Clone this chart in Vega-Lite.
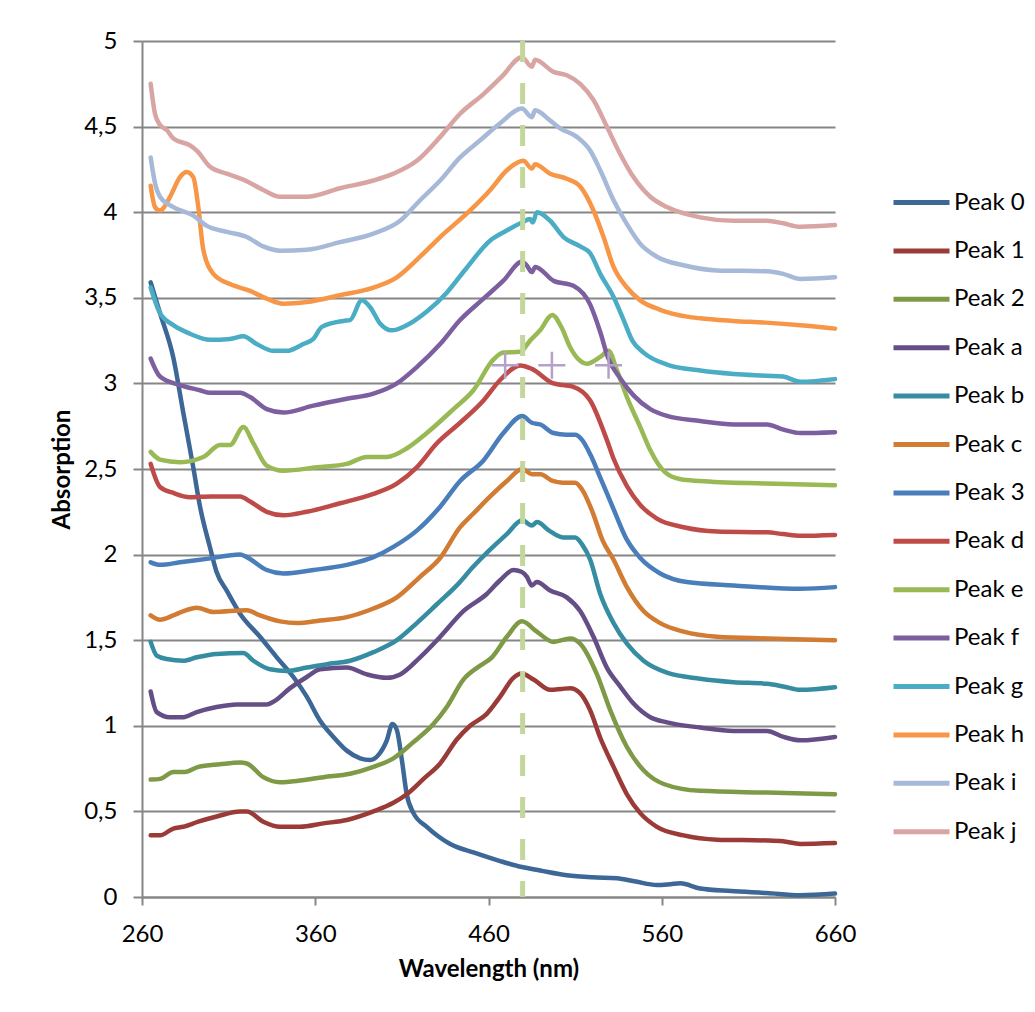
{
"$schema":"https://vega.github.io/schema/vega-lite/v6.json",
"width":693,"height":856,
"autosize":{"type":"none"},
"padding":{"left":142,"top":41,"right":200,"bottom":115},
"background":"white",
"config":{"view":{"stroke":null},"font":"Lato"},
"encoding":{
 "x":{"field":"w","type":"quantitative","scale":{"domain":[260,660],"nice":false,"zero":false},
  "axis":{"values":[260,360,460,560,660],"grid":false,"domainColor":"#868686","domainWidth":2,"tickColor":"#868686","tickWidth":2,"tickSize":8,"labelFont":"Lato","labelFontSize":24,"labelColor":"#000","labelPadding":17,"labelFlush":false,"title":"Wavelength (nm)","titleFont":"Lato","titleFontSize":24,"titleFontWeight":"bold","titleColor":"#000","titlePadding":11}},
 "y":{"field":"a","type":"quantitative","scale":{"domain":[0,5],"nice":false,"zero":true},
  "axis":{"values":[0,0.5,1,1.5,2,2.5,3,3.5,4,4.5,5],"grid":true,"gridColor":"#868686","gridWidth":1.8,"domainColor":"#868686","domainWidth":2,"tickColor":"#868686","tickWidth":2,"tickSize":9,"labelFont":"Lato","labelFontSize":24,"labelColor":"#000","labelPadding":16,"labelExpr":"replace(format(datum.value,'.1~f'),'.',',')","title":"Absorption","titleFont":"Lato","titleFontSize":24,"titleFontWeight":"bold","titleColor":"#000","titlePadding":9}}
},
"layer":[
{"data":{"values":[
{"s":"Peak 0","w":265,"a":3.59},{"s":"Peak 0","w":270.4,"a":3.41},{"s":"Peak 0","w":278.1,"a":3.15},{"s":"Peak 0","w":283.8,"a":2.83},{"s":"Peak 0","w":289.6,"a":2.51},{"s":"Peak 0","w":293.5,"a":2.28},{"s":"Peak 0","w":299.3,"a":2.04},{"s":"Peak 0","w":303,"a":1.9},{"s":"Peak 0","w":308.9,"a":1.79},{"s":"Peak 0","w":316.6,"a":1.655},{"s":"Peak 0","w":328.1,"a":1.52},{"s":"Peak 0","w":337.8,"a":1.4},{"s":"Peak 0","w":347.4,"a":1.285},{"s":"Peak 0","w":355.1,"a":1.17},{"s":"Peak 0","w":362.8,"a":1.03},{"s":"Peak 0","w":370.5,"a":0.935},{"s":"Peak 0","w":378.2,"a":0.855},{"s":"Peak 0","w":385.9,"a":0.81},{"s":"Peak 0","w":391.7,"a":0.8},{"s":"Peak 0","w":396.5,"a":0.83},{"s":"Peak 0","w":401.3,"a":0.915},{"s":"Peak 0","w":404.5,"a":1.01},{"s":"Peak 0","w":407.1,"a":0.975},{"s":"Peak 0","w":410,"a":0.8},{"s":"Peak 0","w":412.8,"a":0.6},{"s":"Peak 0","w":416.7,"a":0.49},{"s":"Peak 0","w":424.4,"a":0.41},{"s":"Peak 0","w":437.9,"a":0.31},{"s":"Peak 0","w":451.3,"a":0.26},{"s":"Peak 0","w":466.7,"a":0.21},{"s":"Peak 0","w":479.3,"a":0.175},{"s":"Peak 0","w":489.8,"a":0.155},{"s":"Peak 0","w":505.2,"a":0.127},{"s":"Peak 0","w":520,"a":0.115},{"s":"Peak 0","w":534.1,"a":0.11},{"s":"Peak 0","w":545,"a":0.09},{"s":"Peak 0","w":557.2,"a":0.07},{"s":"Peak 0","w":565,"a":0.075},{"s":"Peak 0","w":570.7,"a":0.08},{"s":"Peak 0","w":582.2,"a":0.05},{"s":"Peak 0","w":600,"a":0.035},{"s":"Peak 0","w":620.7,"a":0.023},{"s":"Peak 0","w":640,"a":0.01},{"s":"Peak 0","w":660,"a":0.02},
{"s":"Peak 1","w":265,"a":0.36},{"s":"Peak 1","w":270.4,"a":0.36},{"s":"Peak 1","w":278.1,"a":0.4},{"s":"Peak 1","w":283.8,"a":0.41},{"s":"Peak 1","w":292.5,"a":0.44},{"s":"Peak 1","w":303.1,"a":0.47},{"s":"Peak 1","w":316.6,"a":0.5},{"s":"Peak 1","w":320.5,"a":0.5},{"s":"Peak 1","w":330,"a":0.44},{"s":"Peak 1","w":339.7,"a":0.41},{"s":"Peak 1","w":351.2,"a":0.41},{"s":"Peak 1","w":364.7,"a":0.43},{"s":"Peak 1","w":378.2,"a":0.45},{"s":"Peak 1","w":393.6,"a":0.5},{"s":"Peak 1","w":405.1,"a":0.55},{"s":"Peak 1","w":412.8,"a":0.6},{"s":"Peak 1","w":422.5,"a":0.69},{"s":"Peak 1","w":432.1,"a":0.78},{"s":"Peak 1","w":441.7,"a":0.92},{"s":"Peak 1","w":449.4,"a":1.0},{"s":"Peak 1","w":459,"a":1.07},{"s":"Peak 1","w":466.7,"a":1.17},{"s":"Peak 1","w":474.4,"a":1.28},{"s":"Peak 1","w":479,"a":1.305},{"s":"Peak 1","w":486,"a":1.27},{"s":"Peak 1","w":495.6,"a":1.21},{"s":"Peak 1","w":502,"a":1.215},{"s":"Peak 1","w":507.2,"a":1.22},{"s":"Peak 1","w":512.9,"a":1.19},{"s":"Peak 1","w":518.7,"a":1.09},{"s":"Peak 1","w":524.5,"a":0.93},{"s":"Peak 1","w":532.2,"a":0.76},{"s":"Peak 1","w":539.9,"a":0.6},{"s":"Peak 1","w":547.6,"a":0.49},{"s":"Peak 1","w":557.2,"a":0.41},{"s":"Peak 1","w":572.6,"a":0.36},{"s":"Peak 1","w":591.9,"a":0.335},{"s":"Peak 1","w":620.7,"a":0.33},{"s":"Peak 1","w":630,"a":0.325},{"s":"Peak 1","w":640,"a":0.31},{"s":"Peak 1","w":660,"a":0.315},
{"s":"Peak 2","w":265,"a":0.686},{"s":"Peak 2","w":270.4,"a":0.69},{"s":"Peak 2","w":278.1,"a":0.73},{"s":"Peak 2","w":284.8,"a":0.73},{"s":"Peak 2","w":292.5,"a":0.76},{"s":"Peak 2","w":305,"a":0.775},{"s":"Peak 2","w":316.6,"a":0.785},{"s":"Peak 2","w":320.5,"a":0.78},{"s":"Peak 2","w":330,"a":0.7},{"s":"Peak 2","w":339.7,"a":0.67},{"s":"Peak 2","w":351.2,"a":0.68},{"s":"Peak 2","w":364.7,"a":0.7},{"s":"Peak 2","w":380.1,"a":0.72},{"s":"Peak 2","w":393.6,"a":0.76},{"s":"Peak 2","w":405.1,"a":0.81},{"s":"Peak 2","w":416.7,"a":0.905},{"s":"Peak 2","w":428.2,"a":1.01},{"s":"Peak 2","w":435.9,"a":1.11},{"s":"Peak 2","w":445.5,"a":1.27},{"s":"Peak 2","w":455,"a":1.35},{"s":"Peak 2","w":462,"a":1.4},{"s":"Peak 2","w":470.6,"a":1.52},{"s":"Peak 2","w":479.3,"a":1.61},{"s":"Peak 2","w":487.9,"a":1.55},{"s":"Peak 2","w":497.5,"a":1.49},{"s":"Peak 2","w":507.2,"a":1.51},{"s":"Peak 2","w":512.9,"a":1.48},{"s":"Peak 2","w":522.6,"a":1.3},{"s":"Peak 2","w":530.3,"a":1.09},{"s":"Peak 2","w":539.9,"a":0.876},{"s":"Peak 2","w":549.5,"a":0.74},{"s":"Peak 2","w":561.1,"a":0.66},{"s":"Peak 2","w":582.2,"a":0.62},{"s":"Peak 2","w":620.7,"a":0.61},{"s":"Peak 2","w":660,"a":0.6},
{"s":"Peak a","w":265,"a":1.2},{"s":"Peak a","w":268.5,"a":1.08},{"s":"Peak a","w":276.2,"a":1.05},{"s":"Peak a","w":283.8,"a":1.05},{"s":"Peak a","w":291.6,"a":1.08},{"s":"Peak a","w":303.1,"a":1.11},{"s":"Peak a","w":314.7,"a":1.125},{"s":"Peak a","w":332,"a":1.125},{"s":"Peak a","w":335.8,"a":1.14},{"s":"Peak a","w":345.5,"a":1.22},{"s":"Peak a","w":355.1,"a":1.285},{"s":"Peak a","w":362.8,"a":1.33},{"s":"Peak a","w":378.2,"a":1.34},{"s":"Peak a","w":389.8,"a":1.3},{"s":"Peak a","w":401.3,"a":1.28},{"s":"Peak a","w":409,"a":1.3},{"s":"Peak a","w":420.5,"a":1.4},{"s":"Peak a","w":432.1,"a":1.52},{"s":"Peak a","w":445.5,"a":1.67},{"s":"Peak a","w":459,"a":1.77},{"s":"Peak a","w":466.7,"a":1.85},{"s":"Peak a","w":474.4,"a":1.91},{"s":"Peak a","w":479,"a":1.9},{"s":"Peak a","w":482.2,"a":1.87},{"s":"Peak a","w":485,"a":1.82},{"s":"Peak a","w":487.9,"a":1.84},{"s":"Peak a","w":495.6,"a":1.79},{"s":"Peak a","w":505.2,"a":1.75},{"s":"Peak a","w":512.9,"a":1.67},{"s":"Peak a","w":520.6,"a":1.52},{"s":"Peak a","w":528.3,"a":1.34},{"s":"Peak a","w":536,"a":1.23},{"s":"Peak a","w":543.7,"a":1.13},{"s":"Peak a","w":553.4,"a":1.05},{"s":"Peak a","w":563,"a":1.02},{"s":"Peak a","w":582.2,"a":0.99},{"s":"Peak a","w":601.5,"a":0.97},{"s":"Peak a","w":620.7,"a":0.97},{"s":"Peak a","w":630.3,"a":0.935},{"s":"Peak a","w":640,"a":0.915},{"s":"Peak a","w":660,"a":0.935},
{"s":"Peak b","w":265,"a":1.49},{"s":"Peak b","w":268.5,"a":1.41},{"s":"Peak b","w":274.3,"a":1.39},{"s":"Peak b","w":283.8,"a":1.38},{"s":"Peak b","w":291.6,"a":1.4},{"s":"Peak b","w":303.1,"a":1.42},{"s":"Peak b","w":318.5,"a":1.425},{"s":"Peak b","w":324.3,"a":1.38},{"s":"Peak b","w":333.9,"a":1.33},{"s":"Peak b","w":343.6,"a":1.32},{"s":"Peak b","w":355.1,"a":1.34},{"s":"Peak b","w":366.7,"a":1.36},{"s":"Peak b","w":380.1,"a":1.38},{"s":"Peak b","w":393.6,"a":1.43},{"s":"Peak b","w":407.1,"a":1.5},{"s":"Peak b","w":418.6,"a":1.6},{"s":"Peak b","w":430.2,"a":1.71},{"s":"Peak b","w":441.7,"a":1.82},{"s":"Peak b","w":451.3,"a":1.93},{"s":"Peak b","w":460,"a":2.02},{"s":"Peak b","w":470.6,"a":2.12},{"s":"Peak b","w":479.5,"a":2.2},{"s":"Peak b","w":485,"a":2.17},{"s":"Peak b","w":488,"a":2.19},{"s":"Peak b","w":495,"a":2.14},{"s":"Peak b","w":503,"a":2.1},{"s":"Peak b","w":510,"a":2.1},{"s":"Peak b","w":514,"a":2.06},{"s":"Peak b","w":518.7,"a":1.97},{"s":"Peak b","w":524.5,"a":1.77},{"s":"Peak b","w":532.2,"a":1.6},{"s":"Peak b","w":539.9,"a":1.48},{"s":"Peak b","w":549.5,"a":1.38},{"s":"Peak b","w":563,"a":1.31},{"s":"Peak b","w":582.2,"a":1.275},{"s":"Peak b","w":601.5,"a":1.255},{"s":"Peak b","w":620.7,"a":1.245},{"s":"Peak b","w":630,"a":1.23},{"s":"Peak b","w":640,"a":1.21},{"s":"Peak b","w":660,"a":1.225},
{"s":"Peak c","w":265,"a":1.645},{"s":"Peak c","w":270.4,"a":1.62},{"s":"Peak c","w":278.1,"a":1.645},{"s":"Peak c","w":284,"a":1.67},{"s":"Peak c","w":291.6,"a":1.69},{"s":"Peak c","w":301.2,"a":1.665},{"s":"Peak c","w":320.5,"a":1.675},{"s":"Peak c","w":328.1,"a":1.645},{"s":"Peak c","w":339.7,"a":1.61},{"s":"Peak c","w":349.3,"a":1.6},{"s":"Peak c","w":362.8,"a":1.615},{"s":"Peak c","w":378.2,"a":1.635},{"s":"Peak c","w":393.6,"a":1.685},{"s":"Peak c","w":407.1,"a":1.75},{"s":"Peak c","w":420.5,"a":1.87},{"s":"Peak c","w":432.1,"a":1.98},{"s":"Peak c","w":443.6,"a":2.16},{"s":"Peak c","w":451.3,"a":2.24},{"s":"Peak c","w":461,"a":2.34},{"s":"Peak c","w":470.6,"a":2.43},{"s":"Peak c","w":479.5,"a":2.5},{"s":"Peak c","w":485,"a":2.47},{"s":"Peak c","w":490,"a":2.47},{"s":"Peak c","w":497,"a":2.43},{"s":"Peak c","w":503,"a":2.42},{"s":"Peak c","w":510,"a":2.42},{"s":"Peak c","w":514,"a":2.38},{"s":"Peak c","w":520,"a":2.25},{"s":"Peak c","w":526,"a":2.08},{"s":"Peak c","w":532.2,"a":1.97},{"s":"Peak c","w":539.9,"a":1.81},{"s":"Peak c","w":549.5,"a":1.67},{"s":"Peak c","w":559.1,"a":1.6},{"s":"Peak c","w":572.6,"a":1.55},{"s":"Peak c","w":591.9,"a":1.52},{"s":"Peak c","w":620.7,"a":1.51},{"s":"Peak c","w":660,"a":1.5},
{"s":"Peak 3","w":265,"a":1.955},{"s":"Peak 3","w":270.4,"a":1.94},{"s":"Peak 3","w":281.9,"a":1.955},{"s":"Peak 3","w":297.4,"a":1.975},{"s":"Peak 3","w":316.6,"a":2.0},{"s":"Peak 3","w":320.5,"a":1.985},{"s":"Peak 3","w":332,"a":1.91},{"s":"Peak 3","w":341.6,"a":1.89},{"s":"Peak 3","w":358.9,"a":1.91},{"s":"Peak 3","w":378.2,"a":1.94},{"s":"Peak 3","w":393.6,"a":1.985},{"s":"Peak 3","w":405.1,"a":2.045},{"s":"Peak 3","w":418.6,"a":2.14},{"s":"Peak 3","w":432.1,"a":2.28},{"s":"Peak 3","w":443.6,"a":2.43},{"s":"Peak 3","w":457.1,"a":2.55},{"s":"Peak 3","w":468.6,"a":2.71},{"s":"Peak 3","w":479.5,"a":2.81},{"s":"Peak 3","w":485,"a":2.77},{"s":"Peak 3","w":490,"a":2.76},{"s":"Peak 3","w":497.5,"a":2.71},{"s":"Peak 3","w":505,"a":2.7},{"s":"Peak 3","w":510,"a":2.7},{"s":"Peak 3","w":514,"a":2.67},{"s":"Peak 3","w":519,"a":2.58},{"s":"Peak 3","w":524.5,"a":2.45},{"s":"Peak 3","w":532,"a":2.27},{"s":"Peak 3","w":539.7,"a":2.09},{"s":"Peak 3","w":547.6,"a":1.98},{"s":"Peak 3","w":559.1,"a":1.89},{"s":"Peak 3","w":574.5,"a":1.84},{"s":"Peak 3","w":601.5,"a":1.82},{"s":"Peak 3","w":640,"a":1.8},{"s":"Peak 3","w":660,"a":1.81},
{"s":"Peak d","w":265,"a":2.53},{"s":"Peak d","w":270.4,"a":2.395},{"s":"Peak d","w":278.1,"a":2.36},{"s":"Peak d","w":287.7,"a":2.335},{"s":"Peak d","w":300,"a":2.34},{"s":"Peak d","w":316.6,"a":2.34},{"s":"Peak d","w":322.4,"a":2.31},{"s":"Peak d","w":332,"a":2.25},{"s":"Peak d","w":341.6,"a":2.23},{"s":"Peak d","w":355.1,"a":2.25},{"s":"Peak d","w":374.3,"a":2.3},{"s":"Peak d","w":393.6,"a":2.355},{"s":"Peak d","w":407.1,"a":2.415},{"s":"Peak d","w":418.6,"a":2.51},{"s":"Peak d","w":430.2,"a":2.65},{"s":"Peak d","w":443.6,"a":2.77},{"s":"Peak d","w":457.1,"a":2.9},{"s":"Peak d","w":466.7,"a":3.02},{"s":"Peak d","w":478.3,"a":3.105},{"s":"Peak d","w":485,"a":3.085},{"s":"Peak d","w":497.5,"a":3.0},{"s":"Peak d","w":503,"a":2.99},{"s":"Peak d","w":509,"a":2.98},{"s":"Peak d","w":518.7,"a":2.9},{"s":"Peak d","w":528.3,"a":2.67},{"s":"Peak d","w":532.2,"a":2.56},{"s":"Peak d","w":539.9,"a":2.4},{"s":"Peak d","w":547.6,"a":2.29},{"s":"Peak d","w":557.2,"a":2.21},{"s":"Peak d","w":572.6,"a":2.16},{"s":"Peak d","w":591.9,"a":2.135},{"s":"Peak d","w":620.7,"a":2.13},{"s":"Peak d","w":630,"a":2.12},{"s":"Peak d","w":640,"a":2.11},{"s":"Peak d","w":660,"a":2.115},
{"s":"Peak e","w":265,"a":2.6},{"s":"Peak e","w":270.4,"a":2.555},{"s":"Peak e","w":281.9,"a":2.54},{"s":"Peak e","w":295.4,"a":2.57},{"s":"Peak e","w":305,"a":2.64},{"s":"Peak e","w":310.8,"a":2.64},{"s":"Peak e","w":318.5,"a":2.745},{"s":"Peak e","w":324.3,"a":2.65},{"s":"Peak e","w":332,"a":2.52},{"s":"Peak e","w":341.6,"a":2.49},{"s":"Peak e","w":360.9,"a":2.51},{"s":"Peak e","w":378.2,"a":2.53},{"s":"Peak e","w":389.8,"a":2.57},{"s":"Peak e","w":401.3,"a":2.57},{"s":"Peak e","w":412.8,"a":2.62},{"s":"Peak e","w":424.4,"a":2.71},{"s":"Peak e","w":439.8,"a":2.85},{"s":"Peak e","w":451.3,"a":2.96},{"s":"Peak e","w":462.9,"a":3.14},{"s":"Peak e","w":468.6,"a":3.18},{"s":"Peak e","w":478.3,"a":3.185},{"s":"Peak e","w":484,"a":3.25},{"s":"Peak e","w":489.8,"a":3.31},{"s":"Peak e","w":496.8,"a":3.4},{"s":"Peak e","w":502,"a":3.33},{"s":"Peak e","w":507.2,"a":3.21},{"s":"Peak e","w":512,"a":3.14},{"s":"Peak e","w":516.8,"a":3.115},{"s":"Peak e","w":524.5,"a":3.155},{"s":"Peak e","w":529.3,"a":3.19},{"s":"Peak e","w":534,"a":3.08},{"s":"Peak e","w":539.9,"a":2.92},{"s":"Peak e","w":547.6,"a":2.745},{"s":"Peak e","w":553.4,"a":2.61},{"s":"Peak e","w":562,"a":2.48},{"s":"Peak e","w":571,"a":2.44},{"s":"Peak e","w":582,"a":2.43},{"s":"Peak e","w":620,"a":2.415},{"s":"Peak e","w":660,"a":2.405},
{"s":"Peak f","w":265,"a":3.145},{"s":"Peak f","w":270.4,"a":3.04},{"s":"Peak f","w":281.9,"a":2.99},{"s":"Peak f","w":293.5,"a":2.96},{"s":"Peak f","w":299.3,"a":2.945},{"s":"Peak f","w":316.6,"a":2.945},{"s":"Peak f","w":322.4,"a":2.92},{"s":"Peak f","w":332,"a":2.85},{"s":"Peak f","w":341.6,"a":2.83},{"s":"Peak f","w":358.9,"a":2.87},{"s":"Peak f","w":378.2,"a":2.91},{"s":"Peak f","w":393.6,"a":2.94},{"s":"Peak f","w":407.1,"a":3.0},{"s":"Peak f","w":418.6,"a":3.095},{"s":"Peak f","w":432.1,"a":3.23},{"s":"Peak f","w":443.6,"a":3.37},{"s":"Peak f","w":457.1,"a":3.495},{"s":"Peak f","w":468.6,"a":3.6},{"s":"Peak f","w":479.3,"a":3.71},{"s":"Peak f","w":482,"a":3.69},{"s":"Peak f","w":485,"a":3.65},{"s":"Peak f","w":487,"a":3.68},{"s":"Peak f","w":497.5,"a":3.6},{"s":"Peak f","w":509,"a":3.57},{"s":"Peak f","w":518.7,"a":3.46},{"s":"Peak f","w":524.5,"a":3.3},{"s":"Peak f","w":529,"a":3.15},{"s":"Peak f","w":536,"a":3.03},{"s":"Peak f","w":543.7,"a":2.93},{"s":"Peak f","w":553.4,"a":2.85},{"s":"Peak f","w":563,"a":2.81},{"s":"Peak f","w":582.2,"a":2.78},{"s":"Peak f","w":601.5,"a":2.76},{"s":"Peak f","w":620.7,"a":2.76},{"s":"Peak f","w":630.3,"a":2.73},{"s":"Peak f","w":640,"a":2.71},{"s":"Peak f","w":660,"a":2.715},
{"s":"Peak g","w":265,"a":3.56},{"s":"Peak g","w":270.4,"a":3.41},{"s":"Peak g","w":278.1,"a":3.34},{"s":"Peak g","w":287.7,"a":3.29},{"s":"Peak g","w":299.3,"a":3.255},{"s":"Peak g","w":310.8,"a":3.26},{"s":"Peak g","w":318.5,"a":3.275},{"s":"Peak g","w":326.2,"a":3.23},{"s":"Peak g","w":335.8,"a":3.19},{"s":"Peak g","w":343.6,"a":3.19},{"s":"Peak g","w":353.1,"a":3.23},{"s":"Peak g","w":358.9,"a":3.26},{"s":"Peak g","w":363.8,"a":3.33},{"s":"Peak g","w":376.2,"a":3.365},{"s":"Peak g","w":380.1,"a":3.37},{"s":"Peak g","w":386.9,"a":3.485},{"s":"Peak g","w":391.7,"a":3.445},{"s":"Peak g","w":397.4,"a":3.35},{"s":"Peak g","w":404.2,"a":3.31},{"s":"Peak g","w":412.8,"a":3.34},{"s":"Peak g","w":424.4,"a":3.42},{"s":"Peak g","w":435.9,"a":3.53},{"s":"Peak g","w":447,"a":3.67},{"s":"Peak g","w":461,"a":3.835},{"s":"Peak g","w":470,"a":3.89},{"s":"Peak g","w":479.3,"a":3.94},{"s":"Peak g","w":484,"a":3.96},{"s":"Peak g","w":485.5,"a":3.94},{"s":"Peak g","w":488,"a":4.0},{"s":"Peak g","w":495.6,"a":3.95},{"s":"Peak g","w":503.3,"a":3.855},{"s":"Peak g","w":512.9,"a":3.8},{"s":"Peak g","w":518.7,"a":3.76},{"s":"Peak g","w":524.5,"a":3.64},{"s":"Peak g","w":532.2,"a":3.505},{"s":"Peak g","w":538,"a":3.37},{"s":"Peak g","w":543,"a":3.25},{"s":"Peak g","w":549.5,"a":3.18},{"s":"Peak g","w":563,"a":3.11},{"s":"Peak g","w":582.2,"a":3.075},{"s":"Peak g","w":601.5,"a":3.055},{"s":"Peak g","w":620.7,"a":3.045},{"s":"Peak g","w":630,"a":3.04},{"s":"Peak g","w":640,"a":3.01},{"s":"Peak g","w":660,"a":3.025},
{"s":"Peak h","w":265,"a":4.155},{"s":"Peak h","w":267.5,"a":4.03},{"s":"Peak h","w":270.4,"a":4.01},{"s":"Peak h","w":276.2,"a":4.09},{"s":"Peak h","w":281.9,"a":4.205},{"s":"Peak h","w":285.8,"a":4.235},{"s":"Peak h","w":289.6,"a":4.205},{"s":"Peak h","w":292.5,"a":4.03},{"s":"Peak h","w":295.4,"a":3.78},{"s":"Peak h","w":301.2,"a":3.64},{"s":"Peak h","w":310.8,"a":3.58},{"s":"Peak h","w":322.4,"a":3.54},{"s":"Peak h","w":332,"a":3.495},{"s":"Peak h","w":341.6,"a":3.465},{"s":"Peak h","w":355.1,"a":3.475},{"s":"Peak h","w":374.3,"a":3.515},{"s":"Peak h","w":393.6,"a":3.56},{"s":"Peak h","w":407.1,"a":3.62},{"s":"Peak h","w":420.5,"a":3.74},{"s":"Peak h","w":432.1,"a":3.855},{"s":"Peak h","w":449.4,"a":4.01},{"s":"Peak h","w":461,"a":4.13},{"s":"Peak h","w":470.6,"a":4.245},{"s":"Peak h","w":480.2,"a":4.3},{"s":"Peak h","w":485,"a":4.255},{"s":"Peak h","w":486.9,"a":4.28},{"s":"Peak h","w":495.6,"a":4.225},{"s":"Peak h","w":505.2,"a":4.195},{"s":"Peak h","w":512.9,"a":4.15},{"s":"Peak h","w":520.6,"a":4.01},{"s":"Peak h","w":526.4,"a":3.855},{"s":"Peak h","w":532.2,"a":3.68},{"s":"Peak h","w":539.9,"a":3.56},{"s":"Peak h","w":547.6,"a":3.485},{"s":"Peak h","w":559.1,"a":3.43},{"s":"Peak h","w":574.5,"a":3.39},{"s":"Peak h","w":582,"a":3.38},{"s":"Peak h","w":601,"a":3.365},{"s":"Peak h","w":620,"a":3.355},{"s":"Peak h","w":640,"a":3.34},{"s":"Peak h","w":660,"a":3.32},
{"s":"Peak i","w":265,"a":4.32},{"s":"Peak i","w":267.5,"a":4.17},{"s":"Peak i","w":270.4,"a":4.09},{"s":"Peak i","w":278.1,"a":4.03},{"s":"Peak i","w":289.6,"a":3.98},{"s":"Peak i","w":297.4,"a":3.92},{"s":"Peak i","w":308.9,"a":3.885},{"s":"Peak i","w":320.5,"a":3.855},{"s":"Peak i","w":330,"a":3.8},{"s":"Peak i","w":339.7,"a":3.775},{"s":"Peak i","w":355.1,"a":3.78},{"s":"Peak i","w":374.3,"a":3.825},{"s":"Peak i","w":393.6,"a":3.875},{"s":"Peak i","w":409,"a":3.95},{"s":"Peak i","w":420.5,"a":4.07},{"s":"Peak i","w":432.1,"a":4.185},{"s":"Peak i","w":443.6,"a":4.32},{"s":"Peak i","w":455.2,"a":4.42},{"s":"Peak i","w":466.7,"a":4.52},{"s":"Peak i","w":479.3,"a":4.605},{"s":"Peak i","w":485,"a":4.555},{"s":"Peak i","w":486.9,"a":4.595},{"s":"Peak i","w":495.6,"a":4.535},{"s":"Peak i","w":501.4,"a":4.49},{"s":"Peak i","w":511,"a":4.44},{"s":"Peak i","w":518.7,"a":4.36},{"s":"Peak i","w":524.5,"a":4.245},{"s":"Peak i","w":532.2,"a":4.07},{"s":"Peak i","w":539.9,"a":3.93},{"s":"Peak i","w":547.6,"a":3.815},{"s":"Peak i","w":557.2,"a":3.74},{"s":"Peak i","w":572.6,"a":3.69},{"s":"Peak i","w":591.9,"a":3.66},{"s":"Peak i","w":620.7,"a":3.655},{"s":"Peak i","w":630,"a":3.64},{"s":"Peak i","w":640,"a":3.61},{"s":"Peak i","w":660,"a":3.62},
{"s":"Peak j","w":265,"a":4.75},{"s":"Peak j","w":267.5,"a":4.575},{"s":"Peak j","w":270.4,"a":4.51},{"s":"Peak j","w":274.3,"a":4.48},{"s":"Peak j","w":278.1,"a":4.43},{"s":"Peak j","w":287.7,"a":4.39},{"s":"Peak j","w":291.6,"a":4.36},{"s":"Peak j","w":299.3,"a":4.265},{"s":"Peak j","w":308.9,"a":4.225},{"s":"Peak j","w":318.5,"a":4.19},{"s":"Peak j","w":330,"a":4.13},{"s":"Peak j","w":339.7,"a":4.09},{"s":"Peak j","w":355.1,"a":4.09},{"s":"Peak j","w":374.3,"a":4.14},{"s":"Peak j","w":393.6,"a":4.185},{"s":"Peak j","w":405.1,"a":4.225},{"s":"Peak j","w":418.6,"a":4.3},{"s":"Peak j","w":432.1,"a":4.44},{"s":"Peak j","w":443.6,"a":4.575},{"s":"Peak j","w":457.1,"a":4.69},{"s":"Peak j","w":467.5,"a":4.79},{"s":"Peak j","w":479.3,"a":4.905},{"s":"Peak j","w":485,"a":4.85},{"s":"Peak j","w":486.9,"a":4.89},{"s":"Peak j","w":497.5,"a":4.82},{"s":"Peak j","w":505.2,"a":4.8},{"s":"Peak j","w":512.9,"a":4.75},{"s":"Peak j","w":520.6,"a":4.655},{"s":"Peak j","w":528.3,"a":4.5},{"s":"Peak j","w":536,"a":4.34},{"s":"Peak j","w":543.7,"a":4.205},{"s":"Peak j","w":553.4,"a":4.09},{"s":"Peak j","w":563,"a":4.03},{"s":"Peak j","w":582.2,"a":3.97},{"s":"Peak j","w":601.5,"a":3.95},{"s":"Peak j","w":620.7,"a":3.95},{"s":"Peak j","w":630,"a":3.935},{"s":"Peak j","w":640,"a":3.915},{"s":"Peak j","w":660,"a":3.925}
]},
"mark":{"type":"line","strokeWidth":4.5,"interpolate":"monotone","strokeCap":"round","strokeJoin":"round"},
"encoding":{"color":{"field":"s","type":"nominal",
 "scale":{"domain":["Peak 0","Peak 1","Peak 2","Peak a","Peak b","Peak c","Peak 3","Peak d","Peak e","Peak f","Peak g","Peak h","Peak i","Peak j"],
  "range":["#3C6796","#9B3B38","#7E9A47","#654E86","#368DA2","#D17B33","#4A7EBB","#BE4B48","#98B954","#7D5FA0","#4AACC5","#F79646","#A6B9D8","#D9A5A3"]},
 "legend":{"orient":"none","legendX":749,"legendY":131,"title":null,"padding":0,"symbolType":"stroke","symbolSize":3136,"symbolStrokeWidth":5,"labelFont":"Lato","labelFontSize":24,"labelColor":"#000","labelOffset":2,"rowPadding":5.4}}}
},
{"data":{"values":[{"w":469.6,"a":3.106},{"w":496.6,"a":3.106},{"w":529.3,"a":3.106}]},
 "mark":{"type":"point","shape":"M-1,0L1,0M0,-1L0,1","size":729,"filled":false,"color":"#B3A2C7","strokeWidth":2.5,"opacity":1}},
{"data":{"values":[{"w":479.7,"a":5,"a2":0}]},
 "mark":{"type":"rule","color":"#C3D69B","strokeWidth":5,"strokeDash":[21,21]},
 "encoding":{"y2":{"field":"a2"}}}
]
}
